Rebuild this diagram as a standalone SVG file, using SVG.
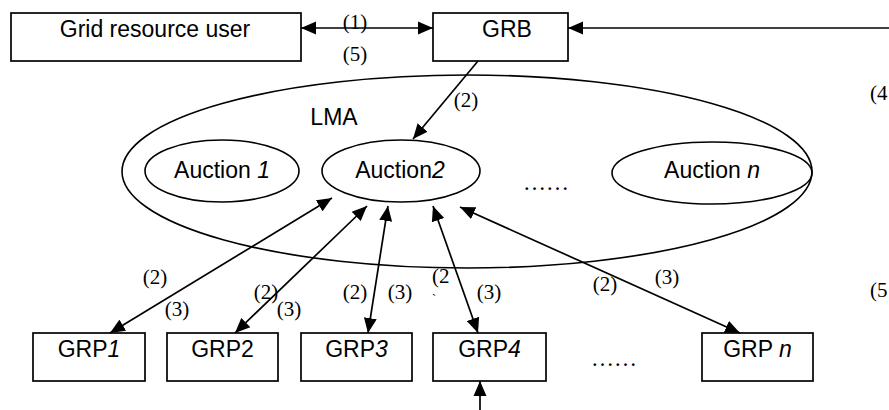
<svg xmlns="http://www.w3.org/2000/svg" width="889" height="410" viewBox="0 0 889 410">
<style>
.box{fill:#fff;stroke:#000;stroke-width:1.7}
.ell{fill:none;stroke:#000;stroke-width:1.6}
.sans{font-family:"Liberation Sans",Arial,sans-serif;font-size:23px;fill:#000}
.serif{font-family:"Liberation Serif","Times New Roman",serif;font-size:21px;fill:#000}
.it{font-style:italic}
.ln{fill:none;stroke:#000;stroke-width:1.7}
</style>
<defs>
<marker id="ah" markerUnits="userSpaceOnUse" markerWidth="16" markerHeight="14" refX="15" refY="7" orient="auto-start-reverse">
<path d="M0,0.5 L15,7 L0,13.5 z" fill="#000"/>
</marker>
</defs>
<rect width="889" height="410" fill="#fff"/>

<g id="lma">
<ellipse class="ell" cx="467" cy="171.5" rx="345" ry="96.5"/>
<text class="sans" x="334" y="125" text-anchor="middle">LMA</text>
</g>

<g id="user">
<rect class="box" x="11" y="13" width="290" height="48"/>
<text class="sans" x="155" y="37" text-anchor="middle">Grid resource user</text>
</g>
<g id="grb">
<rect class="box" x="433" y="13" width="135" height="48"/>
<text class="sans" x="507" y="37" text-anchor="middle">GRB</text>
</g>

<g id="auction1">
<ellipse class="ell" cx="222" cy="171" rx="77" ry="31"/>
<text class="sans" x="222" y="178" text-anchor="middle">Auction <tspan class="it">1</tspan></text>
</g>
<g id="auction2">
<ellipse class="ell" cx="401" cy="171" rx="79" ry="31"/>
<text class="sans" x="400" y="178" text-anchor="middle">Auction<tspan class="it">2</tspan></text>
</g>
<g id="auctionn">
<ellipse class="ell" cx="712" cy="173" rx="100" ry="31"/>
<text class="sans" x="712" y="178" text-anchor="middle">Auction <tspan class="it">n</tspan></text>
</g>
<text class="serif" x="546" y="190" text-anchor="middle" style="font-size:23px">……</text>

<g id="grp1">
<rect class="box" x="33" y="333" width="112" height="48"/>
<text class="sans" x="89" y="357" text-anchor="middle">GRP<tspan class="it">1</tspan></text>
</g>
<g id="grp2">
<rect class="box" x="167" y="333" width="111" height="48"/>
<text class="sans" x="222.5" y="357" text-anchor="middle">GRP2</text>
</g>
<g id="grp3">
<rect class="box" x="301" y="333" width="111" height="48"/>
<text class="sans" x="356.5" y="357" text-anchor="middle">GRP<tspan class="it">3</tspan></text>
</g>
<g id="grp4">
<rect class="box" x="433" y="333" width="113" height="48"/>
<text class="sans" x="489.5" y="357" text-anchor="middle">GRP<tspan class="it">4</tspan></text>
</g>
<g id="grpn">
<rect class="box" x="702" y="333" width="111" height="48"/>
<text class="sans" x="757.5" y="357" text-anchor="middle">GRP <tspan class="it">n</tspan></text>
</g>
<text class="serif" x="614" y="366" text-anchor="middle" style="font-size:23px">……</text>

<g id="connectors">
<line class="ln" x1="301" y1="28" x2="433" y2="28" marker-start="url(#ah)" marker-end="url(#ah)"/>
<line class="ln" x1="889" y1="28" x2="568" y2="28" marker-end="url(#ah)"/>
<line class="ln" x1="478" y1="61" x2="413" y2="139" marker-end="url(#ah)"/>
<line class="ln" x1="332" y1="198" x2="110" y2="333" marker-start="url(#ah)" marker-end="url(#ah)"/>
<line class="ln" x1="367" y1="206" x2="235" y2="333" marker-start="url(#ah)" marker-end="url(#ah)"/>
<line class="ln" x1="388" y1="206" x2="368" y2="333" marker-start="url(#ah)" marker-end="url(#ah)"/>
<line class="ln" x1="433" y1="206" x2="478" y2="333" marker-start="url(#ah)" marker-end="url(#ah)"/>
<line class="ln" x1="460" y1="207" x2="740" y2="333" marker-start="url(#ah)" marker-end="url(#ah)"/>
<line class="ln" x1="480" y1="410" x2="480" y2="381" marker-end="url(#ah)"/>
</g>

<g id="labels">
<text class="serif" x="355" y="29" text-anchor="middle">(1)</text>
<text class="serif" x="355" y="61" text-anchor="middle">(5)</text>
<text class="serif" x="466" y="107" text-anchor="middle">(2)</text>
<text class="serif" x="870" y="100">(4</text>
<text class="serif" x="870" y="297">(5</text>
<text class="serif" x="155" y="284" text-anchor="middle">(2)</text>
<text class="serif" x="177" y="316" text-anchor="middle">(3)</text>
<text class="serif" x="266" y="299" text-anchor="middle">(2)</text>
<text class="serif" x="289" y="316" text-anchor="middle">(3)</text>
<text class="serif" x="355" y="299" text-anchor="middle">(2)</text>
<text class="serif" x="400" y="299" text-anchor="middle">(3)</text>
<text class="serif" x="432" y="283">(2</text>
<text class="serif" x="432" y="303" style="font-size:12px">`</text>
<text class="serif" x="489" y="299" text-anchor="middle">(3)</text>
<text class="serif" x="605" y="291" text-anchor="middle">(2)</text>
<text class="serif" x="667" y="284" text-anchor="middle">(3)</text>
</g>
</svg>
